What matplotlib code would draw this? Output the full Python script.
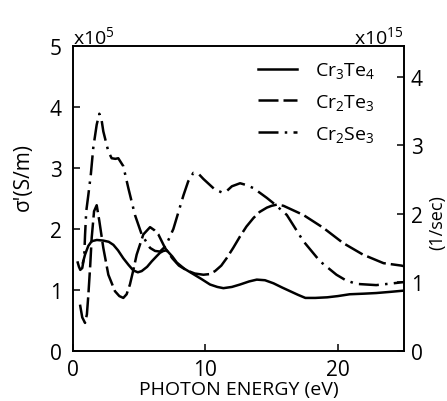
import numpy as np
import matplotlib
matplotlib.use("Agg")
import matplotlib.pyplot as plt

plt.rcParams['font.family'] = ['Open Sans', 'DejaVu Sans']
plt.rcParams['mathtext.default'] = 'regular'

# ==== Data (photon energy in eV, sigma' in 1e5 S/m) ====
e_cr3te4 = [0.75, 0.91, 1.15, 1.41, 1.8, 2.29, 2.7, 3.05, 3.4, 3.8, 4.2, 4.56, 4.9, 5.19,
            5.6, 5.95, 6.3, 6.57, 6.82, 7.08, 7.5, 7.84, 8.4, 9.09, 9.7, 10.35, 10.9, 11.36,
            12.0, 12.62, 13.3, 13.88, 14.5, 15.14, 15.8, 16.4, 17.0, 17.55, 18.3, 19.2,
            20.0, 20.9, 22.0, 22.9, 24.0, 25.0]
s_cr3te4 = [1.45, 1.58, 1.72, 1.80, 1.82, 1.81, 1.79, 1.74, 1.65, 1.52, 1.41, 1.32, 1.29, 1.31,
            1.38, 1.47, 1.55, 1.61, 1.64, 1.65, 1.55, 1.45, 1.35, 1.26, 1.18, 1.09, 1.05, 1.03,
            1.05, 1.09, 1.14, 1.17, 1.16, 1.11, 1.04, 0.98, 0.92, 0.87, 0.87, 0.88,
            0.90, 0.93, 0.94, 0.95, 0.97, 0.99]

e_cr2te3 = [0.53, 0.7, 0.91, 1.05, 1.16, 1.3, 1.41, 1.59, 1.79, 1.99, 2.29, 2.67, 3.17, 3.5,
            3.8, 4.05, 4.3, 4.55, 4.81, 5.31, 5.82, 6.15, 6.45, 6.95, 7.5, 8.0, 8.6, 9.2,
            9.85, 10.3, 10.73, 11.2, 11.6, 12.1, 12.62, 13.1, 13.63, 14.1, 14.64, 15.0,
            15.4, 15.9, 16.4, 17.4, 18.9, 20.4, 21.9, 23.45, 24.8, 25.0]
s_cr2te3 = [0.76, 0.55, 0.46, 0.6, 0.92, 1.4, 1.85, 2.29, 2.39, 2.13, 1.69, 1.25, 0.98, 0.9,
            0.87, 0.93, 1.09, 1.32, 1.58, 1.91, 2.03, 1.98, 1.91, 1.69, 1.52, 1.40, 1.32, 1.27,
            1.25, 1.26, 1.31, 1.40, 1.52, 1.69, 1.88, 2.04, 2.18, 2.28, 2.35, 2.38,
            2.40, 2.38, 2.33, 2.23, 2.02, 1.77, 1.58, 1.44, 1.40, 1.39]

e_cr2se3 = [0.33, 0.45, 0.55, 0.7, 0.85, 0.91, 1.0, 1.16, 1.35, 1.53, 1.79, 1.99, 2.15, 2.29,
            2.67, 2.92, 3.2, 3.42, 3.8, 4.18, 4.68, 5.19, 5.82, 6.2, 6.57, 7.0, 7.58, 8.34,
            8.7, 9.09, 9.5, 9.85, 10.3, 10.7, 11.24, 11.6, 12.0, 12.62, 13.1, 13.63, 14.64,
            15.27, 16.15, 17.4, 18.66, 19.9, 20.6, 21.4, 22.9, 24.2, 25.0]
s_cr2se3 = [1.47, 1.38, 1.33, 1.36, 1.55, 1.9, 2.29, 2.56, 2.9, 3.33, 3.71, 3.89, 3.80, 3.60,
            3.27, 3.16, 3.15, 3.16, 3.03, 2.67, 2.23, 1.91, 1.69, 1.64, 1.63, 1.72, 2.0, 2.55,
            2.78, 2.92, 2.90, 2.82, 2.73, 2.65, 2.60, 2.62, 2.70, 2.75, 2.72, 2.67, 2.51,
            2.40, 2.23, 1.80, 1.47, 1.25, 1.16, 1.10, 1.08, 1.11, 1.13]

labels = [r'Cr$_3$Te$_4$', r'Cr$_2$Te$_3$', r'Cr$_2$Se$_3$']
left_ticks = [0, 1, 2, 3, 4, 5]
right_ticks = [0, 1, 2, 3, 4]
x_ticks = [0, 10, 20]

# ==== Figure ====
fig = plt.figure(figsize=(4.47, 4.02), dpi=100)
ax = fig.add_axes([0.1633, 0.1244, 0.7405, 0.7587])

lw = 1.8
ax.plot(e_cr3te4, s_cr3te4, color='black', lw=lw, label=labels[0])
ax.plot(e_cr2te3, s_cr2te3, color='black', lw=lw, dashes=(8, 2), label=labels[1])
ax.plot(e_cr2se3, s_cr2se3, color='black', lw=lw, dashes=(8, 2.5, 1, 2.5), label=labels[2])

ax.set_xlim(0, 25)
ax.set_ylim(0, 5)
ax.set_xticks(x_ticks)
ax.set_yticks(left_ticks)
ax.tick_params(axis='both', direction='in', length=5, width=1.1, labelsize=15)
ax.tick_params(axis='x', pad=6)
ax.tick_params(axis='y', pad=8)
for sp in ax.spines.values():
    sp.set_linewidth(1.2)

ax2 = ax.twinx()
ax2.set_ylim(0, 4.45)
ax2.set_yticks(right_ticks)
ax2.tick_params(axis='y', direction='in', length=5, width=1.1, labelsize=15, pad=5)
for sp in ax2.spines.values():
    sp.set_linewidth(1.2)

ax.set_xlabel('PHOTON ENERGY (eV)', fontsize=14, labelpad=0)
fig.text(23 / 447, 1 - 177 / 402, "σ'(S/m)", rotation=90, fontsize=15,
         ha='center', va='center')
fig.text(437 / 447, 1 - 223 / 402, '(1/sec)', rotation=90, fontsize=13,
         ha='center', va='center')

fig.text(73 / 447, 1 - 44 / 402, r'x$10^5$', fontsize=14, ha='left', va='baseline')
fig.text(404 / 447, 1 - 44 / 402, r'x$10^{15}$', fontsize=14, ha='right', va='baseline')

ax.legend(loc='upper right', bbox_to_anchor=(0.965, 1.01), frameon=False, fontsize=14,
          handlelength=2.0, handletextpad=0.9, labelspacing=0.6)

fig.savefig('out.png', dpi=100)
